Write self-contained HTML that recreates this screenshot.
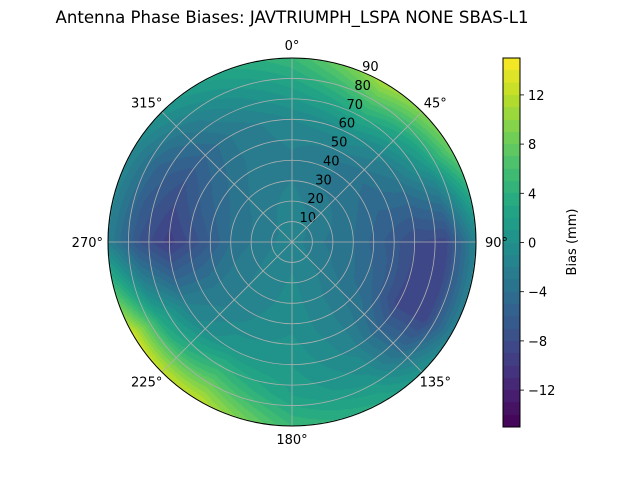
<!DOCTYPE html>
<html><head><meta charset="utf-8"><style>
body{margin:0;background:#fff;width:640px;height:480px;overflow:hidden;font-family:"DejaVu Sans","Liberation Sans",sans-serif;}
#wrap{position:relative;width:640px;height:480px;}
canvas{position:absolute;left:0;top:0;}
svg{position:absolute;left:0;top:0;font-family:"DejaVu Sans","Liberation Sans",sans-serif;}
</style></head><body>
<div id="wrap">
<canvas id="cv" width="640" height="480"></canvas>
<svg id="sv" width="640" height="480"></svg>
</div>
<script>
const azimuths=[0,30,60,90,120,150,180,210,240,270,300,330];
const zeniths=[0,15,30,45,60,75,90];
const biasRows=[
[-1.5,-1.5,-2,-2,-1,2,5],
[-1.5,-2,-3,-3,0,5,11],
[-1.5,-2.5,-3.5,-4.5,-3,1,8],
[-1.5,-3,-4,-6,-8,-8.5,-1.5],
[-1.5,-2.5,-3.5,-5,-8.5,-8.5,-2],
[-1.5,-1.5,-2,-2,-1.5,0,3],
[-1.5,-1,-0.5,0,1,2,5],
[-1.5,-1.5,-1.5,-1,1,6,12],
[-1.5,-2,-2.5,-3,-2,3,13],
[-1.5,-2.5,-4,-7,-9.5,-7,-2],
[-1.5,-2.5,-3.5,-5,-7,-5,-1],
[-1.5,-2,-2.5,-3,-3,-1,2]];
const radialTicks=[10,20,30,40,50,60,70,80,90];
const angleTicks=[0,45,90,135,180,225,270,315];
const cbarTicks=[-12,-8,-4,0,4,8,12];
const vmin=-15,vmax=15,levelStep=1;
const cx=292,cy=242,R=184;
const cbX=503,cbW=17,cbTop=58,cbBot=427;
const VIR=[[68,1,84],[72,35,116],[64,67,135],[52,94,141],[41,120,142],[32,144,140],[34,167,132],[68,190,112],[121,209,81],[189,222,38],[253,231,37]];
function viridis(t){t=Math.max(0,Math.min(1,t));const f=t*10,i=Math.min(9,Math.floor(f)),u=f-i;const a=VIR[i],b=VIR[i+1];return [0,1,2].map(k=>Math.round(a[k]+(b[k]-a[k])*u));}
function levelColor(v){let l=Math.floor((v-vmin)/levelStep);const n=(vmax-vmin)/levelStep;l=Math.max(0,Math.min(n-1,l));return viridis((l+0.5)/n);}
function bias(az,zen){
  const na=azimuths.length,da=360/na;
  let fa=((az%360)+360)%360/da;let i0=Math.floor(fa)%na,i1=(i0+1)%na,ua=fa-Math.floor(fa);
  const dz=zeniths[1]-zeniths[0];let fz=Math.min(zen/dz,zeniths.length-1.0001);let j0=Math.floor(fz),uz=fz-j0;
  const g=(i,j)=>biasRows[i][j];
  return (g(i0,j0)*(1-uz)+g(i0,j0+1)*uz)*(1-ua)+(g(i1,j0)*(1-uz)+g(i1,j0+1)*uz)*ua;
}
const cv=document.getElementById('cv'),ctx=cv.getContext('2d');
const img=ctx.createImageData(640,480);
for(let y=0;y<480;y++)for(let x=0;x<640;x++){
  const dx=x+0.5-cx,dy=y+0.5-cy,r=Math.hypot(dx,dy);const p=(y*640+x)*4;
  if(r<=R){const az=Math.atan2(dx,-dy)*180/Math.PI;const c=levelColor(bias(az,r/R*90));
    img.data[p]=c[0];img.data[p+1]=c[1];img.data[p+2]=c[2];img.data[p+3]=255;}
  else if(x>=cbX&&x<cbX+cbW&&y>=cbTop&&y<cbBot){const v=vmax-(y+0.5-cbTop)/(cbBot-cbTop)*(vmax-vmin);const c=levelColor(v);
    img.data[p]=c[0];img.data[p+1]=c[1];img.data[p+2]=c[2];img.data[p+3]=255;}
  else{img.data[p]=255;img.data[p+1]=255;img.data[p+2]=255;img.data[p+3]=255;}
}
ctx.putImageData(img,0,0);
const sv=document.getElementById('sv');const NS='http://www.w3.org/2000/svg';
function mk(t,a,txt){const e=document.createElementNS(NS,t);for(const k in a)e.setAttribute(k,a[k]);if(txt!==undefined)e.textContent=txt;sv.appendChild(e);return e;}
let e;
e=mk('text',{x:292,y:23,'text-anchor':'middle','font-size':16.6,fill:'#000'},'Antenna Phase Biases: JAVTRIUMPH_LSPA NONE SBAS-L1');


radialTicks.forEach(t=>{const r=t/90*R;
  if(t<90){e=mk('circle',{cx:cx,cy:cy,r:r,fill:'none',stroke:'#b0b0b0','stroke-width':0.8});
  
  }
  const a=22.5*Math.PI/180;
  e=mk('text',{x:cx+r*Math.sin(a)+8,y:cy-r*Math.cos(a)-1,'text-anchor':'middle','font-size':13,fill:'#000'},String(t));
  
  
});
angleTicks.forEach(t=>{const a=t*Math.PI/180;
  e=mk('line',{x1:cx,y1:cy,x2:cx+R*Math.sin(a),y2:cy-R*Math.cos(a),stroke:'#b0b0b0','stroke-width':0.8});
  
  
  const lr=R+13;let x=cx+lr*Math.sin(a),y=cy-lr*Math.cos(a)+5;
  let anc='middle';if(t===90){anc='start';x-=4;}if(t===270){anc='end';x+=8;}
  if(t===45||t===135){x+=4;}if(t===225||t===315){x-=6;}
  e=mk('text',{x:x,y:y,'text-anchor':anc,'font-size':13,fill:'#000'},t+'°');
  
  
});
e=mk('circle',{cx:cx,cy:cy,r:R,fill:'none',stroke:'#000','stroke-width':1});


e=mk('rect',{x:cbX,y:cbTop,width:cbW,height:cbBot-cbTop,fill:'none',stroke:'#000','stroke-width':1});


cbarTicks.forEach(t=>{const y=cbBot-(t-vmin)/(vmax-vmin)*(cbBot-cbTop);
  e=mk('line',{x1:cbX+cbW,y1:y,x2:cbX+cbW+4,y2:y,stroke:'#000','stroke-width':0.8});
  
  
  e=mk('text',{x:cbX+cbW+8,y:y+5,'font-size':13,fill:'#000'},t<0?'\u2212'+Math.abs(t):String(t));
  
  
});
e=mk('text',{x:576,y:242,'text-anchor':'middle','font-size':13,fill:'#000',transform:'rotate(-90 576 242)'},'Bias (mm)');


</script>
</body></html>
